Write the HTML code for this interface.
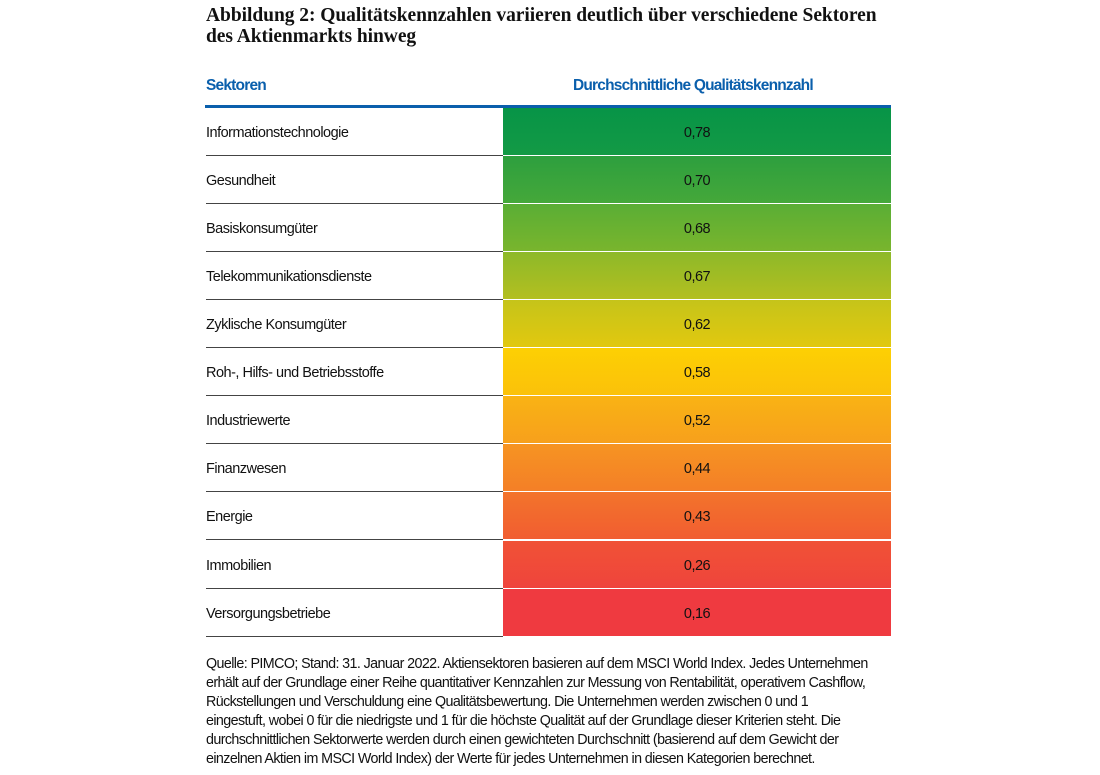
<!DOCTYPE html>
<html><head><meta charset="utf-8"><style>
body{margin:0;width:1100px;height:775px;background:#fff;position:relative;overflow:hidden;font-family:"Liberation Sans",sans-serif}
.title{position:absolute;left:206px;top:5px;font-family:"Liberation Serif",serif;font-size:19.5px;line-height:21px;color:#111;font-weight:bold;letter-spacing:-0.05px}
.hd{position:absolute;top:77px;font-size:15.5px;font-weight:bold;color:#0a5fac;letter-spacing:-0.8px}
.bl{position:absolute;left:205px;top:105px;width:686px;height:3px;background:#0a5fac}
.row{position:absolute;left:206px;width:685px;height:48px}
.row .l{position:absolute;left:0;top:0;width:297px;height:47px;border-bottom:1px solid #444;font-size:14.5px;line-height:51px;color:#111;letter-spacing:-0.5px}
.row .r{position:absolute;left:297px;top:0;width:388px;height:47px;border-bottom:1px solid #fff;font-size:14.5px;line-height:51px;text-align:center;color:#111;letter-spacing:-0.5px}
.note{position:absolute;left:206px;top:655px;font-size:14.3px;line-height:19px;color:#111;letter-spacing:-0.6px;white-space:nowrap}
</style></head><body>
<div class="title">Abbildung 2: Qualitätskennzahlen variieren deutlich über verschiedene Sektoren<br>des Aktienmarkts hinweg</div>
<div class="hd" style="left:206px">Sektoren</div>
<div class="hd" style="left:573px">Durchschnittliche Qualitätskennzahl</div>
<div class="bl"></div>
<div class="row" style="top:108px"><div class="l">Informationstechnologie</div><div class="r" style="background:linear-gradient(#079447,#139a45)">0,78</div></div>
<div class="row" style="top:156px"><div class="l">Gesundheit</div><div class="r" style="background:linear-gradient(#2d9f3e,#45a83a)">0,70</div></div>
<div class="row" style="top:204px"><div class="l">Basiskonsumgüter</div><div class="r" style="background:linear-gradient(#5aae35,#79b52d)">0,68</div></div>
<div class="row" style="top:252px"><div class="l">Telekommunikationsdienste</div><div class="r" style="background:linear-gradient(#8db929,#b3bf20)">0,67</div></div>
<div class="row" style="top:300px"><div class="l">Zyklische Konsumgüter</div><div class="r" style="background:linear-gradient(#c5c41a,#e1c80f)">0,62</div></div>
<div class="row" style="top:348px"><div class="l">Roh-, Hilfs- und Betriebsstoffe</div><div class="r" style="background:linear-gradient(#fdd003,#fbc10a)">0,58</div></div>
<div class="row" style="top:396px"><div class="l">Industriewerte</div><div class="r" style="background:linear-gradient(#f9b314,#f7a01c)">0,52</div></div>
<div class="row" style="top:444px"><div class="l">Finanzwesen</div><div class="r" style="background:linear-gradient(#f69422,#f47f27)">0,44</div></div>
<div class="row" style="top:492px"><div class="l">Energie</div><div class="r" style="background:linear-gradient(#f3742b,#f15d31)">0,43</div></div>
<div class="row" style="top:541px"><div class="l">Immobilien</div><div class="r" style="background:linear-gradient(#f05236,#ef443c)">0,26</div></div>
<div class="row" style="top:589px"><div class="l">Versorgungsbetriebe</div><div class="r" style="background:#ef3a40">0,16</div></div>
<div class="note">Quelle: PIMCO; Stand: 31. Januar 2022. Aktiensektoren basieren auf dem MSCI World Index. Jedes Unternehmen<br>erhält auf der Grundlage einer Reihe quantitativer Kennzahlen zur Messung von Rentabilität, operativem Cashflow,<br>Rückstellungen und Verschuldung eine Qualitätsbewertung. Die Unternehmen werden zwischen 0 und 1<br>eingestuft, wobei 0 für die niedrigste und 1 für die höchste Qualität auf der Grundlage dieser Kriterien steht. Die<br>durchschnittlichen Sektorwerte werden durch einen gewichteten Durchschnitt (basierend auf dem Gewicht der<br>einzelnen Aktien im MSCI World Index) der Werte für jedes Unternehmen in diesen Kategorien berechnet.</div>
</body></html>
